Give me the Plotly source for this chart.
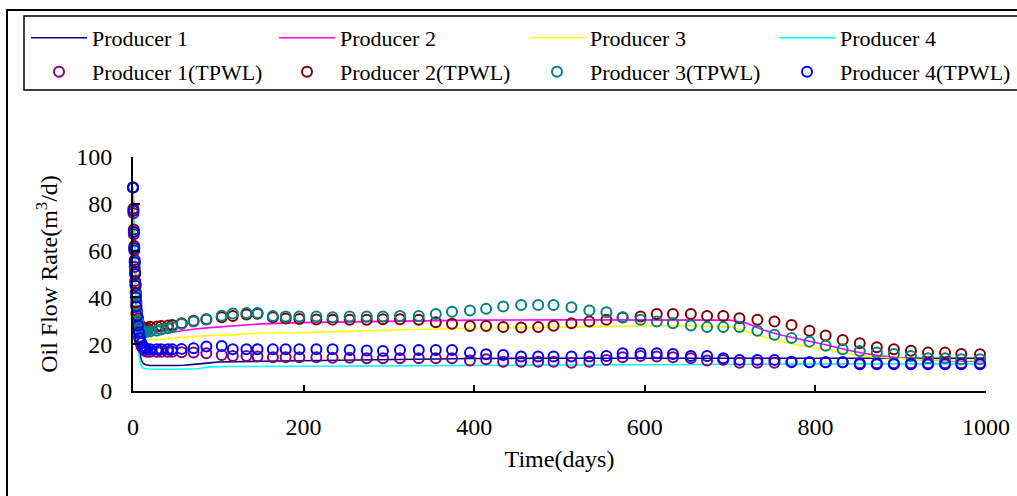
import plotly.graph_objects as go

# ---------------- data ----------------
line_t = [0, 1, 2, 3, 4, 5, 6, 8, 10, 12, 15, 20, 30, 40, 50, 60, 75, 90, 100, 117,
          150, 195, 250, 312, 400, 500, 600, 640, 700, 719, 739, 758, 778, 797, 817,
          837, 856, 876, 895, 915, 954, 1000]

p1 = [87, 72, 58, 46, 36, 28, 22, 16, 13, 11.8, 11.2, 10.9, 10.8, 10.8, 10.9, 11.0, 11.4,
      12.0, 12.4, 12.6, 12.7, 12.9, 13.2, 13.4, 13.9, 14.0, 14.0, 14.0, 14.0, 14.0, 14.0,
      14.0, 14.0, 14.0, 14.0, 14.0, 14.0, 14.0, 14.0, 14.0, 14.0, 14.0]
p2 = [87, 74, 62, 52, 44, 38, 33, 28, 26, 25, 24.6, 24.5, 24.6, 24.8, 25.3, 25.9, 26.6,
      27.1, 27.4, 27.8, 28.7, 29.2, 29.5, 29.8, 30.3, 30.4, 30.4, 30.4, 30.3, 29.0, 26.1,
      24.0, 22.5, 21.1, 19.3, 17.5, 16.1, 15.0, 14.4, 13.6, 13.0, 12.5]
p3 = [87, 74, 62, 51, 42, 35, 30, 25, 22.8, 22, 21.8, 21.8, 21.9, 22.3, 22.7, 23.0, 23.4,
      23.7, 23.8, 24.0, 24.8, 24.9, 25.5, 26.2, 26.8, 27.4, 27.8, 28.0, 27.5, 25.4, 23.2,
      21.5, 19.7, 18.5, 17.5, 16.1, 15.0, 14.4, 14.0, 13.6, 13.2, 13.0]
p4 = [87, 70, 55, 42, 32, 24, 18, 13, 10.5, 9.8, 9.5, 9.4, 9.3, 9.3, 9.3, 9.4, 9.5,
      10.3, 10.4, 10.5, 10.5, 10.6, 10.7, 10.8, 11.1, 11.1, 11.2, 11.2, 11.4, 11.5, 11.5,
      11.5, 11.5, 11.6, 11.6, 11.6, 11.6, 11.6, 11.6, 11.6, 11.6, 11.6]

tpwl_t = [0, 0.5, 1, 1.5, 2, 2.5, 3, 3.5, 4, 5, 6, 7, 8, 10, 12, 14, 16,
          20, 28, 33, 41, 46, 57, 71, 86, 104, 117, 133, 146, 164, 179, 195, 215, 234,
          254, 274, 293, 313, 335, 355, 374, 395, 414, 434, 455, 475, 493, 514, 535, 555,
          574, 595, 614, 633, 654, 673, 692, 711, 732, 752, 772, 793, 812, 832, 852, 872,
          892, 912, 932, 952, 971, 993]

tpwl1 = [87, 76, 67, 60, 53, 47, 42, 37, 33, 29, 26, 23, 21, 19, 18, 17.2, 16.8,
         16.8, 16.8, 16.8, 16.8, 16.8, 16.6, 16.4, 16.1, 15.4, 15.0, 15.0, 14.7, 14.4, 14.4,
         14.4, 14.4, 14.2, 14.2, 14.0, 14.0, 14.0, 14.0, 14.0, 14.0, 13.0, 13.6, 12.5, 12.5,
         12.5, 12.5, 12.1, 12.5, 13.3, 14.4, 15.0, 14.7, 14.4, 14.0, 13.0, 13.3, 12.1, 12.1,
         12.1, 12.3, 12.3, 12.3, 12.3, 11.9, 11.9, 11.9, 11.9, 11.9, 11.9, 11.9, 11.9]
tpwl2 = [87, 78, 69, 62, 56, 51, 46, 42, 38, 34, 31, 29, 27.8, 27.2, 27, 27, 27,
         27.5, 27.6, 27.8, 28.0, 28.2, 29.0, 30.0, 30.6, 31.5, 32.0, 32.7, 33.0, 31.5, 31.0,
         30.8, 30.6, 30.5, 30.4, 30.4, 30.7, 30.7, 30.4, 29.4, 28.7, 27.8, 27.8, 27.3, 27.1,
         27.3, 27.9, 29.0, 29.7, 30.4, 31.4, 31.8, 32.9, 32.9, 32.9, 32.1, 32.1, 31.1, 30.4,
         29.7, 28.2, 25.7, 23.7, 21.8, 20.4, 18.7, 17.8, 17.2, 16.4, 16.4, 15.8, 15.7]
tpwl3 = [87, 77, 68, 61, 55, 50, 45, 41, 37, 33, 30, 28, 27, 26, 25.5, 25.3, 25.3,
         25.4, 25.8, 26.3, 26.8, 27.4, 28.6, 29.7, 30.8, 32.2, 33.1, 33.3, 33.3, 32.0, 31.8,
         31.8, 31.8, 31.5, 31.8, 31.8, 31.8, 32.1, 32.1, 32.9, 33.9, 34.4, 35.1, 36.1, 36.8,
         36.8, 36.8, 35.8, 34.4, 33.7, 31.5, 30.4, 29.7, 29.0, 28.0, 27.3, 27.3, 27.3, 25.7,
         24.0, 22.6, 21.1, 19.3, 17.8, 17.1, 16.4, 15.8, 15.0, 14.0, 14.0, 13.6, 13.6]
tpwl4 = [87, 77, 68, 61, 55, 50, 45, 40, 36, 32, 28, 25, 22.5, 20.5, 19, 18.3, 18,
         17.8, 17.8, 17.8, 17.8, 17.8, 18.0, 18.3, 19.0, 19.2, 17.8, 17.8, 17.8, 17.8, 17.8,
         17.8, 17.8, 17.8, 17.5, 17.3, 17.1, 17.5, 17.5, 17.5, 17.5, 16.4, 15.7, 15.4, 14.7,
         14.7, 14.7, 14.7, 14.7, 15.0, 16.1, 16.1, 16.1, 15.8, 15.0, 15.0, 14.0, 13.3, 13.3,
         13.3, 12.5, 12.3, 12.3, 12.3, 11.4, 11.4, 11.4, 11.4, 11.4, 11.4, 11.4, 11.4]

line_names = ["Producer 1", "Producer 2", "Producer 3", "Producer 4"]
tpwl_names = ["Producer 1(TPWL)", "Producer 2(TPWL)", "Producer 3(TPWL)", "Producer 4(TPWL)"]
line_colors = ["#000080", "#FF00FF", "#FFFF00", "#00FFFF"]
tpwl_colors = ["#800080", "#800000", "#008080", "#0000FF"]

x_ticks = [0, 200, 400, 600, 800, 1000]
y_ticks = [0, 20, 40, 60, 80, 100]

FONT = "Liberation Serif"

L, R, T, B = 133, 31, 157, 105
W, H = 1017, 496
pw, ph = W - L - R, H - T - B


def px_x(p):
    return (p - L) / pw


def px_y(p):
    return (H - B - p) / ph


# legend layout: 4 columns x 2 rows, one single-entry legend per slot
col_px = [26, 274, 524, 774]
row_px = [38, 72]

fig = go.Figure()
legends = {}
k = 0
for i, (name, ys, col) in enumerate(zip(line_names, [p1, p2, p3, p4], line_colors)):
    k += 1
    lid = "legend" if k == 1 else f"legend{k}"
    fig.add_trace(go.Scatter(x=line_t, y=ys, name=name, mode="lines",
                             line=dict(color=col, width=1.6), cliponaxis=False,
                             legend=lid))
    legends[lid] = (col_px[i], row_px[0])
for i, (name, ys, col) in enumerate(zip(tpwl_names, [tpwl1, tpwl2, tpwl3, tpwl4], tpwl_colors)):
    k += 1
    lid = f"legend{k}"
    fig.add_trace(go.Scatter(x=tpwl_t, y=ys, name=name, mode="markers",
                             marker=dict(symbol="circle-open", size=10, color=col,
                                         line=dict(width=2, color=col)),
                             cliponaxis=False, legend=lid))
    legends[lid] = (col_px[i], row_px[1])

leg_layout = {}
for lid, (cx, cy) in legends.items():
    leg_layout[lid] = dict(orientation="h", itemwidth=56,
                           font=dict(family=FONT, size=22, color="black"),
                           bgcolor="rgba(0,0,0,0)", borderwidth=0,
                           xanchor="left", yanchor="middle",
                           x=px_x(cx), y=px_y(cy))

fig.update_layout(
    width=W, height=H,
    margin=dict(l=L, r=R, t=T, b=B, autoexpand=False),
    paper_bgcolor="white", plot_bgcolor="white",
    font=dict(family=FONT, size=24, color="black"),
    showlegend=True,
    xaxis=dict(range=[0, 1000], tickvals=x_ticks, ticktext=[str(v) for v in x_ticks],
               showline=True, linecolor="black", linewidth=2, mirror=False,
               ticks="inside", ticklen=6, tickwidth=1.5, tickcolor="black",
               showgrid=False, zeroline=False, ticklabelstandoff=13,
               tickfont=dict(family=FONT, size=24),
               title=dict(text="Time(days)", font=dict(family=FONT, size=24), standoff=11)),
    yaxis=dict(range=[0, 100], tickvals=y_ticks, ticktext=[str(v) for v in y_ticks],
               showline=True, linecolor="black", linewidth=2, mirror=False,
               ticks="inside", ticklen=7, tickwidth=1.5, tickcolor="black",
               showgrid=False, zeroline=False, ticklabelstandoff=14,
               tickfont=dict(family=FONT, size=24),
               title=dict(text="Oil Flow Rate(m<sup>3</sup>/d)",
                          font=dict(family=FONT, size=24), standoff=12)),
    shapes=[
        dict(type="rect", xref="paper", yref="paper", x0=px_x(7), x1=px_x(1030),
             y0=px_y(520), y1=px_y(10), line=dict(color="black", width=2),
             fillcolor="rgba(0,0,0,0)", layer="below"),
        dict(type="rect", xref="paper", yref="paper", x0=px_x(24), x1=px_x(1030),
             y0=px_y(90), y1=px_y(16), line=dict(color="black", width=1.5),
             fillcolor="rgba(0,0,0,0)", layer="below"),
    ],
    **leg_layout,
)

fig.write_html("out.html")
